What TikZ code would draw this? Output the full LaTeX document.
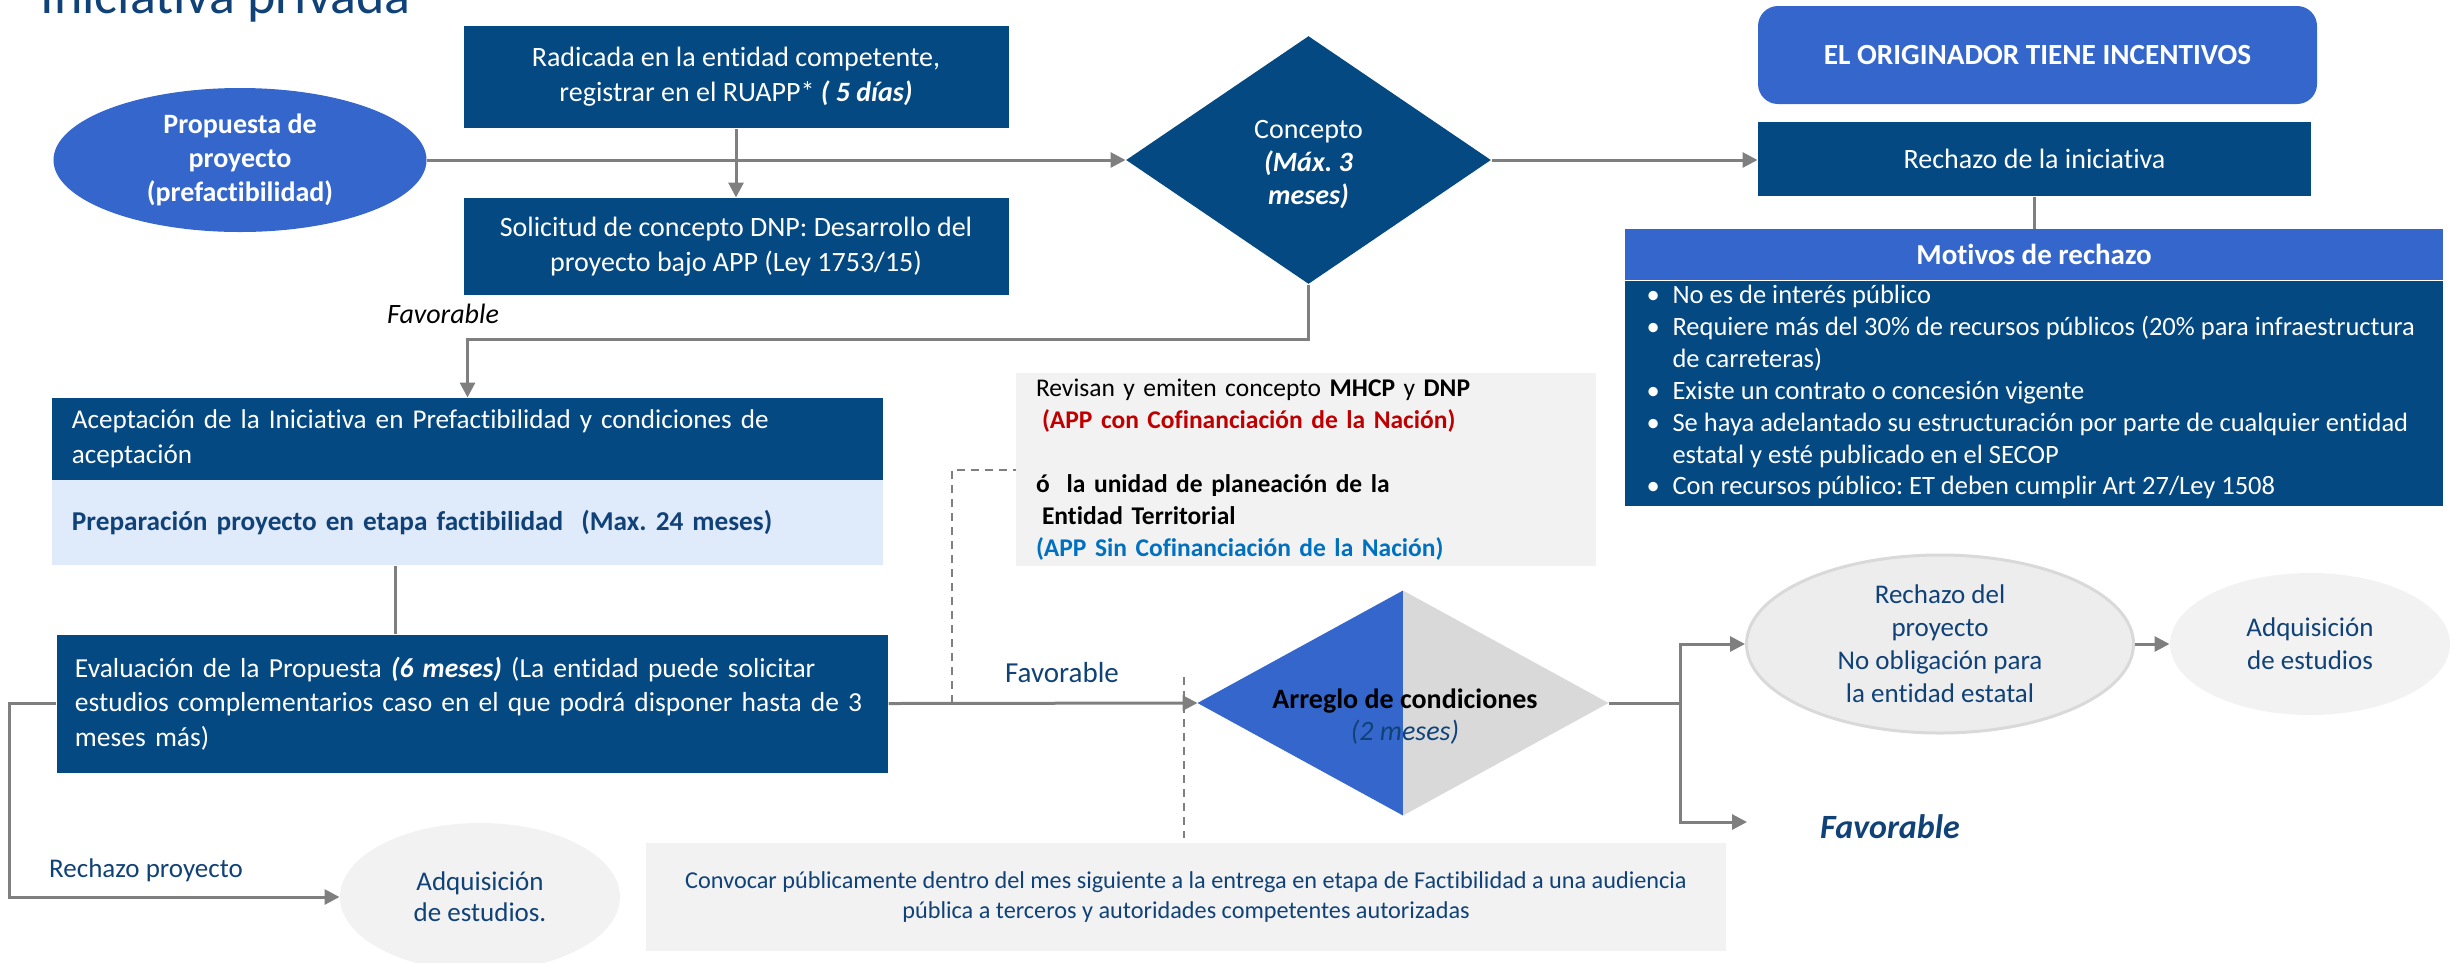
\documentclass[tikz,border=0pt]{standalone}
\usepackage{fontspec}
\setmainfont{Carlito}[Ligatures=NoCommon]
\usetikzlibrary{shapes.geometric,arrows.meta}
\definecolor{dkbox}{RGB}{4,73,130}
\definecolor{medblue}{RGB}{52,102,204}
\definecolor{lightfill}{RGB}{223,234,250}
\definecolor{grayfill}{RGB}{242,242,242}
\definecolor{ellfill}{RGB}{237,237,237}
\definecolor{dgray}{RGB}{217,217,217}
\definecolor{txtblue}{RGB}{16,66,120}
\definecolor{linegray}{RGB}{127,127,127}
\definecolor{appred}{RGB}{192,0,0}
\definecolor{appblue}{RGB}{0,112,192}
\newcommand\fs[2]{\fontsize{#1}{#2}\selectfont}
\frenchspacing
\begin{document}
\begin{tikzpicture}[x=0.4pt,y=-0.4pt,
  conn/.style={draw=linegray,line width=1.2pt},
  arrconn/.style={conn,-{Triangle[length=6pt,width=6pt]}},
  dashconn/.style={draw=linegray,line width=0.8pt,dash pattern=on 3.2pt off 2.4pt},
  darkbox/.style={rectangle,fill=dkbox,text=white,inner sep=0pt,font=\fs{11.2}{14}},
  mtext/.style={anchor=base west,inner sep=0pt,text=white,font=\fs{10.6}{12.8}},
  lbl/.style={inner sep=0pt}
]
\useasboundingbox (0,0) rectangle (2463,962);
\clip (0,0) rectangle (2463,962);

% title
\node[anchor=base west,text=txtblue,font=\fs{21.6}{24},inner sep=0pt] (title) at (40,13) {Iniciativa privada};

% top row
\node[ellipse,fill=medblue,text=white,minimum width=149.2pt,minimum height=57.6pt,inner sep=0pt,align=center,font=\bfseries\fs{11.2}{13.6}] (prop) at (240,160) {Propuesta de\\proyecto\\(prefactibilidad)};
\node[darkbox,minimum width=218pt,minimum height=40.8pt,align=center] (rad) at (736,77) {Radicada en la entidad competente,\\registrar en el RUAPP* \textbf{\textit{( 5 días)}}};
\node[darkbox,minimum width=218pt,minimum height=38.8pt,align=center] (sol) at (736,246.5) {Solicitud de concepto DNP: Desarrollo del\\proyecto bajo APP (Ley 1753/15)};
\node[lbl,font=\itshape\fs{11.2}{14}] (favTop) at (443,314) {Favorable};

\node[diamond,fill=dkbox,minimum width=146pt,minimum height=99.2pt,inner sep=0pt] (conc) at (1308.5,160) {};
\node[lbl,text=white,align=center,font=\fs{11.2}{13.2}] (conctxt) at (1308.5,165) {Concepto\\\textbf{\textit{(Máx. 3}}\\\textbf{\textit{meses)}}};

\node[rectangle,rounded corners=8pt,fill=medblue,text=white,minimum width=223.6pt,minimum height=39.2pt,inner sep=0pt,font=\bfseries\fs{11.7}{14}] (orig) at (2037.5,55) {EL ORIGINADOR TIENE INCENTIVOS};
\node[darkbox,minimum width=221.2pt,minimum height=29.6pt] (rech) at (2034.5,159) {Rechazo de la iniciativa};

% motivos
\node[rectangle,fill=medblue,text=white,minimum width=327.2pt,minimum height=20.4pt,inner sep=0pt,font=\bfseries\fs{11.6}{14}] (moth) at (2034,254.5) {Motivos de rechazo};
\node[rectangle,fill=dkbox,minimum width=327.2pt,minimum height=90pt,inner sep=0pt,anchor=north] (motb) at (moth.south) {};
\node[mtext] (m1) at (1646,303) {\makebox[10.4pt][l]{•}No es de interés público};
\node[mtext] (m2) at (1646,335) {\makebox[10.4pt][l]{•}Requiere más del 30\% de recursos públicos (20\% para infraestructura};
\node[mtext] (m3) at (1672,367) {de carreteras)};
\node[mtext] (m4) at (1646,399) {\makebox[10.4pt][l]{•}Existe un contrato o concesión vigente};
\node[mtext] (m5) at (1646,431) {\makebox[10.4pt][l]{•}Se haya adelantado su estructuración por parte de cualquier entidad};
\node[mtext] (m6) at (1672,463) {estatal y esté publicado en el SECOP};
\node[mtext] (m7) at (1646,494) {\makebox[10.4pt][l]{•}Con recursos público: ET deben cumplir Art 27/Ley 1508};

% left column
\node[darkbox,minimum width=332.4pt,minimum height=32.8pt,text width=316.4pt,align=left,font=\fs{10.85}{14}] (acep) at (467.5,439) {Aceptación de la Iniciativa en Prefactibilidad y condiciones de\\aceptación};
\node[rectangle,fill=lightfill,text=txtblue,minimum width=332.4pt,minimum height=34pt,inner sep=0pt,text width=316.4pt,align=left,font=\bfseries\fs{10.9}{14}] (prep) at (467.5,522.5) {Preparación proyecto en etapa factibilidad\ \ (Max. 24 meses)};
\node[darkbox,minimum width=332.4pt,minimum height=55.2pt,text width=318pt,align=left,font=\fs{11}{13.8}] (eval) at (472.5,703.5) {Evaluación de la Propuesta \textbf{\textit{(6 meses)}} (La entidad puede solicitar\\\mbox{estudios complementarios caso en el que podrá disponer hasta de 3}\\meses más)};

\node[lbl,text=txtblue,font=\fs{10.8}{13}] (rp) at (146,870) {Rechazo proyecto};
\node[ellipse,fill=grayfill,minimum width=112pt,minimum height=59.2pt,inner sep=0pt,align=center,text=txtblue,font=\fs{10.8}{12.4}] (adq1) at (480,897) {Adquisición\\de estudios.};

% middle
\node[rectangle,fill=grayfill,minimum width=232pt,minimum height=77.2pt,inner sep=0pt,text width=216pt,align=left,font=\fs{10.2}{12.8}] (rev) at (1306,469.5) {Revisan y emiten concepto \textbf{MHCP} y \textbf{DNP}\\
\hspace*{2.4pt}\textcolor{appred}{\textbf{(APP con Cofinanciación de la Nación)}}\\
\mbox{}\\
\textbf{ó\ \ la unidad de planeación de la}\\
\hspace*{2.4pt}\textbf{Entidad Territorial}\\
\textcolor{appblue}{\textbf{(APP Sin Cofinanciación de la Nación)}}};

\node[lbl,text=txtblue,font=\fs{11.6}{14}] (favL) at (1062,673) {Favorable};

\node[diamond,minimum width=164pt,minimum height=89.6pt,inner sep=0pt] (arr) at (1403,703) {};
\fill[medblue] (arr.west) -- (arr.north) -- (arr.south) -- cycle;
\fill[dgray] (arr.north) -- (arr.east) -- (arr.south) -- cycle;
\node[lbl,align=center,font=\fs{11.2}{12.8}] (arrtxt) at (1405,717) {\textbf{Arreglo de condiciones}\\\textcolor{txtblue}{\textit{(2 meses)}}};

\node[rectangle,fill=grayfill,minimum width=432pt,minimum height=43.2pt,inner sep=0pt,align=center,text=txtblue,font=\fs{9.7}{12}] (conv) at (1186,897) {Convocar públicamente dentro del mes siguiente a la entrega en etapa de Factibilidad a una audiencia\\pública a terceros y autoridades competentes autorizadas};

% right bottom
\node[ellipse,fill=ellfill,draw=dgray,line width=1.2pt,minimum width=154.8pt,minimum height=71.2pt,inner sep=0pt,align=center,text=txtblue,font=\fs{10.8}{13.2}] (rdp) at (1940,644) {Rechazo del\\proyecto\\No obligación para\\la entidad estatal};
\node[ellipse,fill=grayfill,minimum width=112pt,minimum height=56.8pt,inner sep=0pt,align=center,text=txtblue,font=\fs{10.8}{13.2}] (adq2) at (2310,644) {Adquisición\\de estudios};
\node[lbl,text=txtblue,font=\bfseries\itshape\fs{13.6}{16}] (favR) at (1890,827) {Favorable};

% connectors
\draw[arrconn] (prop.east) -- (prop.east -| conc.west);
\draw[arrconn] (rad.south) -- (sol.north);
\draw[arrconn] (conc.east) -- (conc.east -| rech.west);
\draw[conn] (rech.south) -- (rech.south |- moth.north);
\draw[arrconn] (conc.south) -- ++(0,55) -| (acep.north);
\coordinate (c1) at (395,600);
\draw[conn] (prep.south -| c1) -- (eval.north -| c1);
\draw[arrconn] (eval.west) -- ++(-47,0) |- (adq1.west);
\draw[arrconn] (eval.east) -- (arr.west);
\coordinate (d1) at (952,703);
\draw[dashconn] (d1) |- (rev.west);
\coordinate (d2) at (1184,677);
\draw[dashconn,shorten >=2pt] (d2) -- (d2 |- conv.north);
\coordinate (sp) at (1680,703);
\draw[conn] (arr.east) -- (sp);
\draw[arrconn] (sp) |- (rdp.west);
\coordinate (fvend) at (1747,822);
\draw[arrconn] (sp) |- (fvend);
\draw[arrconn] (rdp.east) -- (adq2.west);
\end{tikzpicture}
\end{document}
